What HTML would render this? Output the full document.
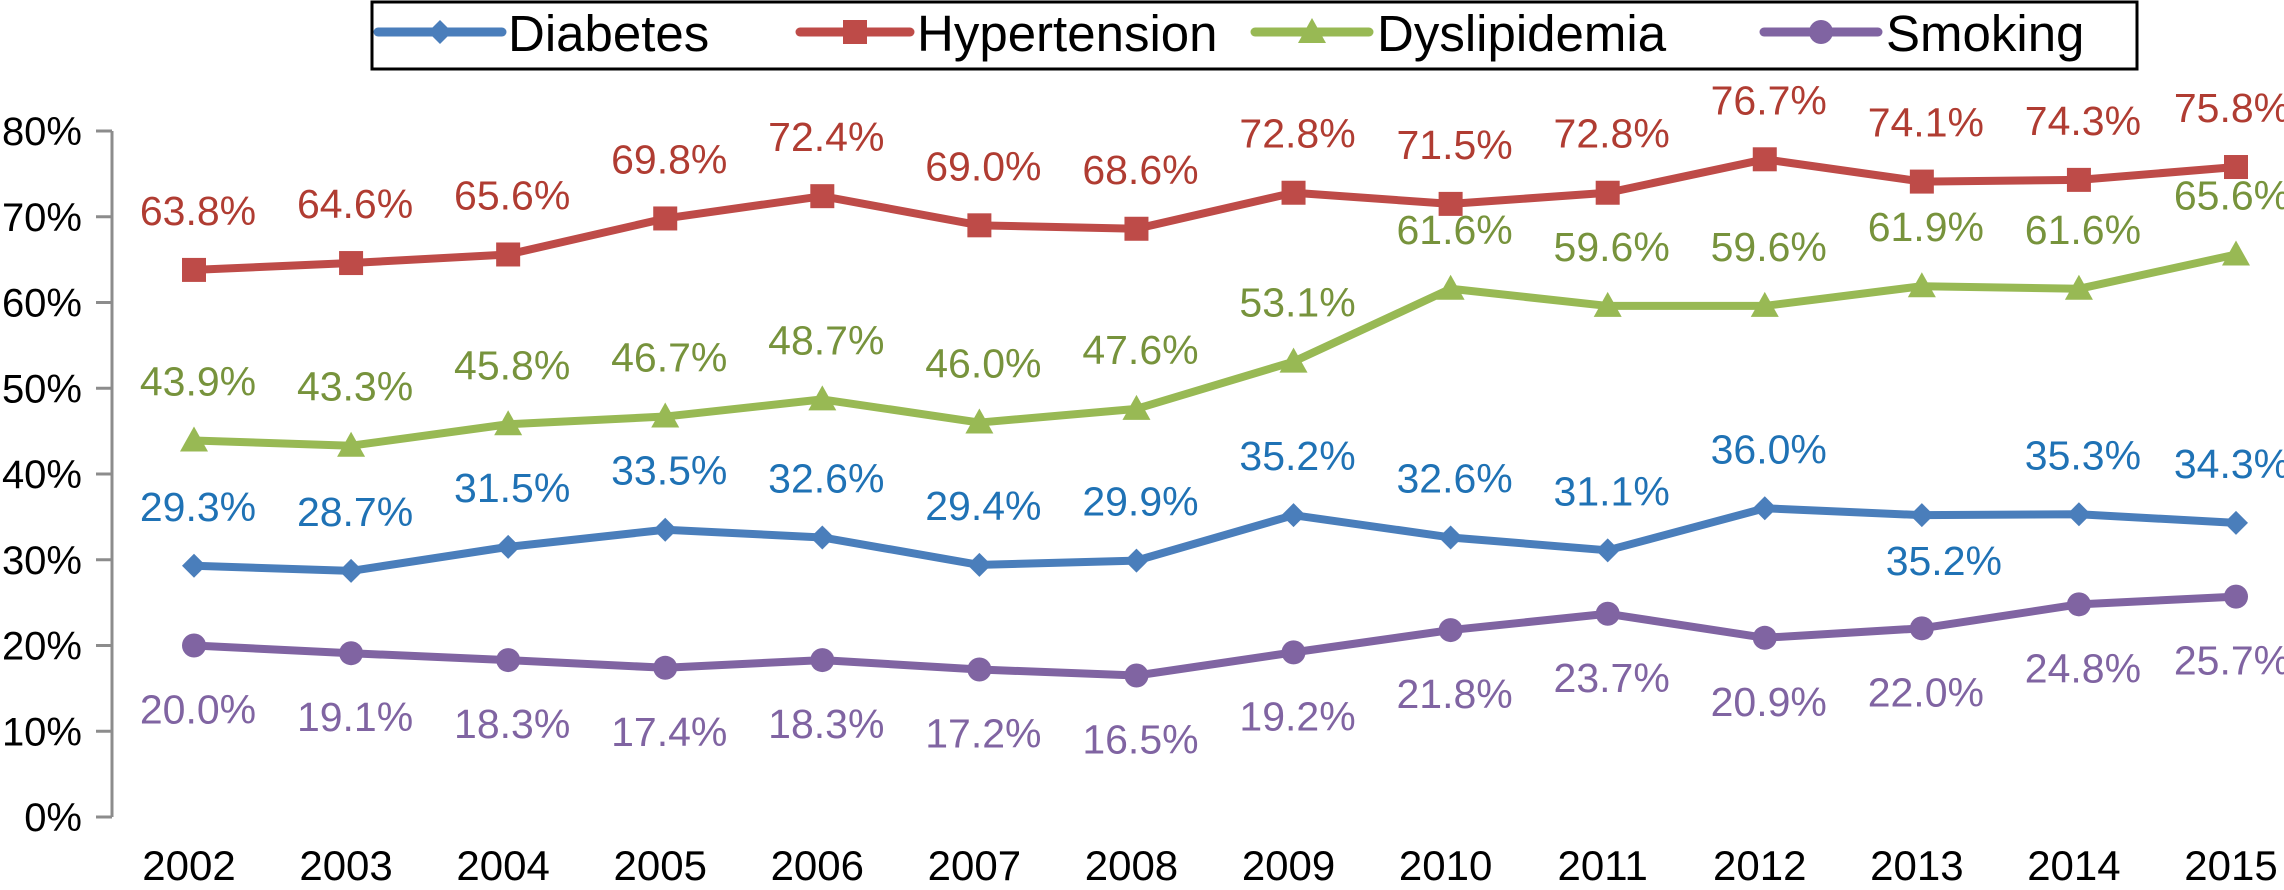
<!DOCTYPE html>
<html><head><meta charset="utf-8"><style>
html,body{margin:0;padding:0;background:#fff;}
svg{display:block;font-family:"Liberation Sans",Arial,sans-serif;}
</style></head><body>
<svg id="chart" width="2284" height="890" viewBox="0 0 2284 890" xmlns="http://www.w3.org/2000/svg"></svg>
<script>
const years = ["2002","2003","2004","2005","2006","2007","2008","2009","2010","2011","2012","2013","2014","2015"];
const diabetes = [29.3,28.7,31.5,33.5,32.6,29.4,29.9,35.2,32.6,31.1,36.0,35.2,35.3,34.3];
const hypertension = [63.8,64.6,65.6,69.8,72.4,69.0,68.6,72.8,71.5,72.8,76.7,74.1,74.3,75.8];
const dyslipidemia = [43.9,43.3,45.8,46.7,48.7,46.0,47.6,53.1,61.6,59.6,59.6,61.9,61.6,65.6];
const smoking = [20.0,19.1,18.3,17.4,18.3,17.2,16.5,19.2,21.8,23.7,20.9,22.0,24.8,25.7];
const yTicks = [0,10,20,30,40,50,60,70,80];

const svg = document.getElementById('chart');
const NS = 'http://www.w3.org/2000/svg';
const X0 = 194, XSTEP = (2236-194)/13, Y0 = 817, YPX = 8.575;
const xs = i => X0 + i*XSTEP;
const ys = v => Y0 - v*YPX;
function mk(tag, attrs, parent){const e=document.createElementNS(NS,tag);for(const k in attrs)e.setAttribute(k,attrs[k]);(parent||svg).appendChild(e);return e;}

const axis = mk('g',{});


mk('line',{x1:112,y1:ys(80),x2:112,y2:Y0,stroke:'#8c8c8c','stroke-width':3},axis);
yTicks.forEach(t=>{
  mk('line',{x1:96,y1:ys(t),x2:112,y2:ys(t),stroke:'#8c8c8c','stroke-width':3},axis);
  const tx = mk('text',{x:82,y:ys(t)+14,'text-anchor':'end','font-size':40,fill:'#000'},axis);
  tx.textContent = t+'%';
  
  
});
const xa = mk('g',{});


years.forEach((y,i)=>{
  const tx = mk('text',{x:xs(i)-5,y:880,'text-anchor':'middle','font-size':42,fill:'#000'},xa);
  tx.textContent = y;
  
  
});

const series = [
 {name:'hypertension',data:hypertension,line:'#be4b48',text:'#b03c32',marker:'square',below:[]},
 {name:'dyslipidemia',data:dyslipidemia,line:'#98b954',text:'#77933c',marker:'triangle',below:[]},
 {name:'diabetes',data:diabetes,line:'#4a7ebb',text:'#1f72b5',marker:'diamond',below:[11]},
 {name:'smoking',data:smoking,line:'#8064a2',text:'#8064a2',marker:'circle',below:null}
];
function marker(type,x,y,color,g){
  if(type==='square') return mk('rect',{x:x-12,y:y-12,width:24,height:24,fill:color},g);
  if(type==='triangle') return mk('polygon',{points:`${x},${y-14} ${x+14},${y+11} ${x-14},${y+11}`,fill:color},g);
  if(type==='diamond') return mk('polygon',{points:`${x},${y-12} ${x+12},${y} ${x},${y+12} ${x-12},${y}`,fill:color},g);
  return mk('circle',{cx:x,cy:y,r:12,fill:color},g);
}
series.forEach(s=>{
  const g = mk('g',{});
  
  
  const pts = s.data.map((v,i)=>xs(i)+','+ys(v)).join(' ');
  const pl = mk('polyline',{points:pts,fill:'none',stroke:s.line,'stroke-width':8,'stroke-linejoin':'round'},g);
  
  
  s.data.forEach((v,i)=>{
    const m = marker(s.marker,xs(i),ys(v),s.line,g);
    
    
    const below = s.below===null || s.below.includes(i);
    const ty = below ? (s.below===null ? ys(v)+78 : ys(v)+60) : ys(v)-45;
    let dx = (s.below!==null&&below) ? 22 : 4;
    if(i===years.length-1) dx = -4;
    const tx = mk('text',{x:xs(i)+dx,y:ty,'text-anchor':'middle','font-size':41,fill:s.text},g);
    tx.textContent = v.toFixed(1)+'%';
    
    
  });
});

const lg = mk('g',{});


mk('rect',{x:372,y:2,width:1765,height:67,fill:'#fff',stroke:'#000','stroke-width':3},lg);
const legendItems = [
 {label:'Diabetes',c:'#4a7ebb',m:'diamond',x1:378,x2:502,tx:508},
 {label:'Hypertension',c:'#be4b48',m:'square',x1:800,x2:910,tx:917},
 {label:'Dyslipidemia',c:'#98b954',m:'triangle',x1:1255,x2:1369,tx:1377},
 {label:'Smoking',c:'#8064a2',m:'circle',x1:1764,x2:1878,tx:1886}
];
legendItems.forEach(it=>{
  const e = mk('g',{},lg);
  
  
  mk('line',{x1:it.x1,y1:32,x2:it.x2,y2:32,stroke:it.c,'stroke-width':9,'stroke-linecap':'round'},e);
  marker(it.m,(it.x1+it.x2)/2,32,it.c,e);
  const t = mk('text',{x:it.tx,y:51,'font-size':51,fill:'#000'},e);
  t.textContent = it.label;
});
</script>
</body></html>
